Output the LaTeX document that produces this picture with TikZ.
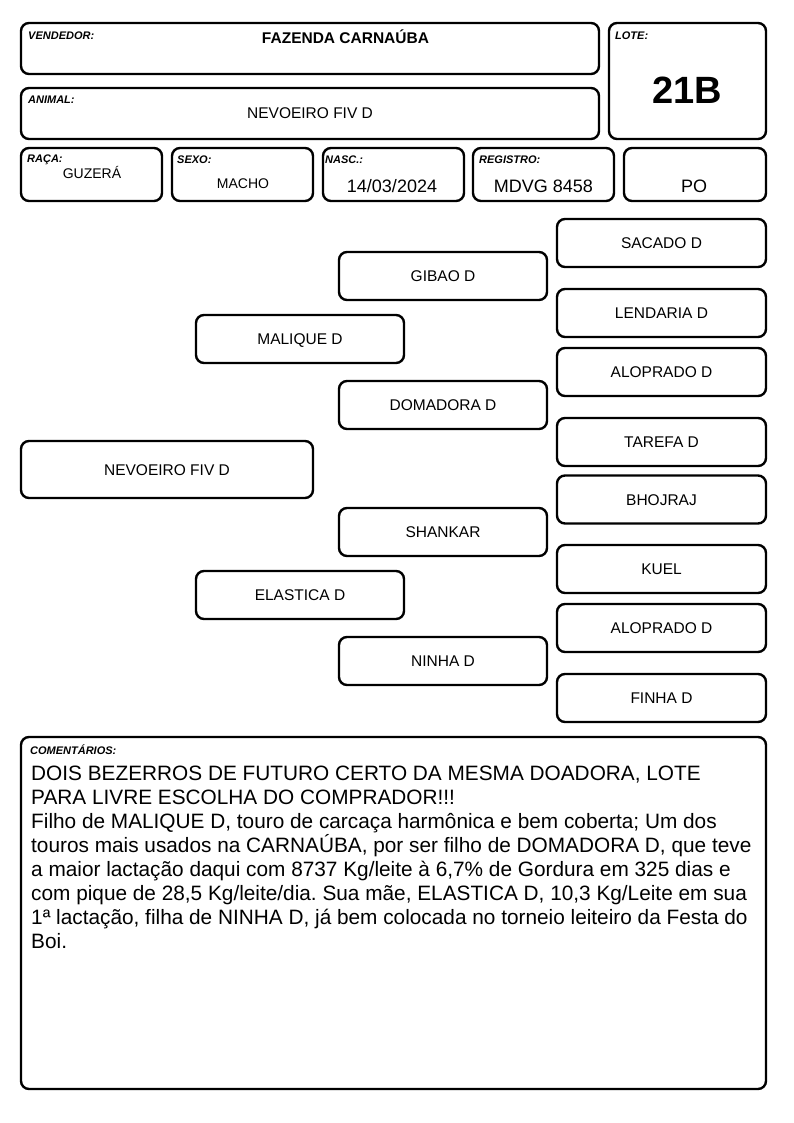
\documentclass[tikz,border=0pt]{standalone}
\usepackage{fontspec}
\setmainfont{Liberation Sans}
\frenchspacing
\tikzset{
  caixa/.style={draw,line width=2.4pt,rounded corners=8pt,inner sep=0pt},
  rotulo/.style={anchor=north west,inner sep=0pt,font=\fontsize{11}{12}\selectfont\bfseries\itshape},
  nome/.style={caixa,minimum width=208pt,minimum height=48pt,text height=11pt,text depth=0pt,font=\fontsize{15.5}{18}\selectfont}
}
\begin{document}
\begin{tikzpicture}[x=1pt,y=-1pt]
\useasboundingbox (0,0) rectangle (794,1123);
% cabecalho
\node[caixa,minimum width=578pt,minimum height=51pt](vendedor) at (310,48.5){};
\node[caixa,minimum width=578pt,minimum height=51pt](animal) at (310,113.5){};
\node[caixa,minimum width=157pt,minimum height=116pt](lote) at (687.5,81){};
\foreach \nm/\x/\w in {raca/91.5/141,sexo/242.5/141,nasc/393.5/141,registro/543.5/141,po/695/142}
{
    \node[caixa,minimum width=\w pt,minimum height=53pt](\nm) at (\x,174.5){};
}
\node[rotulo] at (28,32){VENDEDOR:};
\node[rotulo] at (28,96){ANIMAL:};
\node[rotulo] at (615,32){LOTE:};
\node[rotulo] at (27,155){RAÇA:};
\node[rotulo] at (177,156){SEXO:};
\node[rotulo] at (325,156){NASC.:};
\node[rotulo] at (479,156){REGISTRO:};
\node[font=\fontsize{15.5}{18}\selectfont\bfseries] at (345.5,37){FAZENDA CARNAÚBA};
\node[font=\fontsize{15.5}{18}\selectfont] at (310,113){NEVOEIRO FIV D};
\node[font=\fontsize{38}{40}\selectfont\bfseries] at (687.5,90.5){21B};
\node[font=\fontsize{14}{16}\selectfont] at (92,172.5){GUZERÁ};
\node[font=\fontsize{14}{16}\selectfont] at (243,183.5){MACHO};
\node[font=\fontsize{18}{20}\selectfont] at (392,186){14/03/2024};
\node[font=\fontsize{18}{20}\selectfont] at (543.5,186){MDVG 8458};
\node[font=\fontsize{18}{20}\selectfont] at (694,186.5){PO};

% genealogia
\node[nome,minimum width=292pt,minimum height=57pt](filho) at (167,469.5){NEVOEIRO FIV D};
\node[nome](pai) at (300,339){MALIQUE D};
\node[nome](mae) at (300,595){ELASTICA D};
\foreach \nm/\y/\txt in {avo1/276/GIBAO D,avo2/405/DOMADORA D,avo3/532/SHANKAR,avo4/661/NINHA D}
{
    \node[nome](\nm) at (443,\y){\txt};
}
\foreach \nm/\y/\txt in {bis1/243/SACADO D,bis2/313/LENDARIA D,bis3/372/ALOPRADO D,bis4/442/TAREFA D,
    bis5/499.5/BHOJRAJ,bis6/569/KUEL,bis7/628/ALOPRADO D,bis8/698/FINHA D}
{
    \node[nome,minimum width=209pt](\nm) at (661.5,\y){\txt};
}

% comentarios
\node[caixa,minimum width=745pt,minimum height=352pt](coment) at (393.5,913){};
\node[rotulo] at (30,745){COMENTÁRIOS:};
\node[anchor=north west,inner sep=0pt,align=left,font=\fontsize{20.8}{24}\selectfont] at (31,766){%
DOIS BEZERROS DE FUTURO CERTO DA MESMA DOADORA, LOTE\\
PARA LIVRE ESCOLHA DO COMPRADOR!!!\\
Filho de MALIQUE D, touro de carcaça harmônica e bem coberta; Um dos\\
touros mais usados na CARNAÚBA, por ser filho de DOMADORA D, que teve\\
a maior lactação daqui com 8737 Kg/leite à 6,7\% de Gordura em 325 dias e\\
com pique de 28,5 Kg/leite/dia. Sua mãe, ELASTICA D, 10,3 Kg/Leite em sua\\
1ª lactação, filha de NINHA D, já bem colocada no torneio leiteiro da Festa do\\
Boi.};
\end{tikzpicture}
\end{document}
